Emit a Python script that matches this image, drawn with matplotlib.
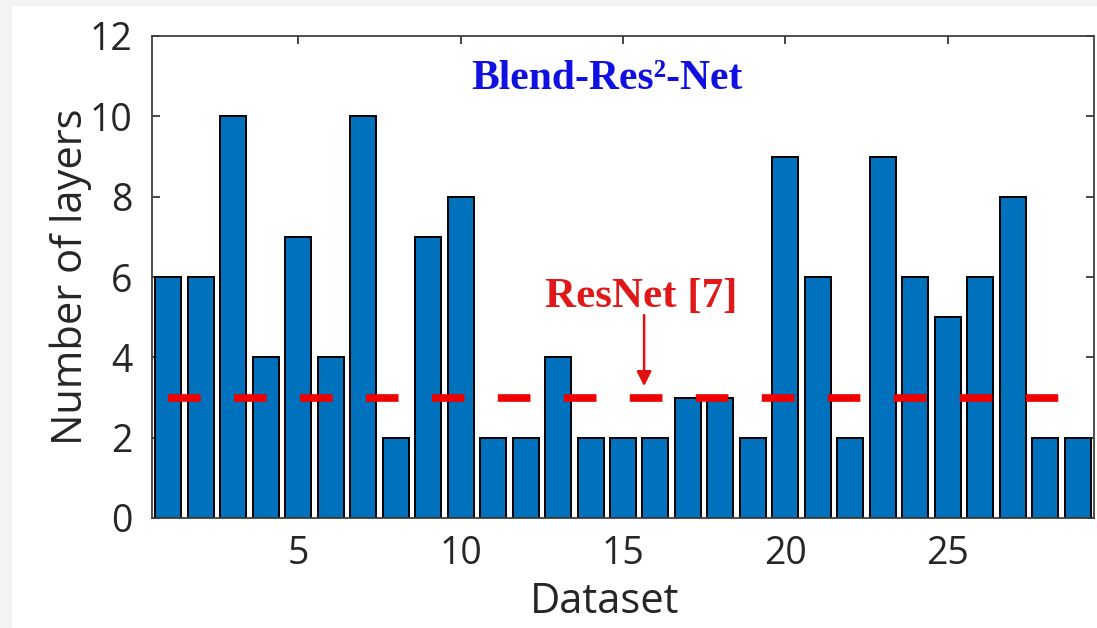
import matplotlib.pyplot as plt
import numpy as np
from matplotlib.patches import Rectangle

# Data
datasets = np.arange(1, 30)
layers = [6, 6, 10, 4, 7, 4, 10, 2, 7, 8, 2, 2, 4, 2, 2, 2, 3, 3, 2, 9, 6, 2, 9, 6, 5, 6, 8, 2, 2]
resnet_layers = 3
x_ticks = [5, 10, 15, 20, 25]
y_ticks = [0, 2, 4, 6, 8, 10, 12]

plt.rcParams['font.family'] = 'Open Sans'
text_color = '#262626'

fig = plt.figure(figsize=(10.97, 6.28), dpi=100, facecolor='#f3f3f3')
# white canvas area like the screenshot
fig.patches.append(Rectangle((12 / 1097, 0), 1, 1 - 6 / 628, transform=fig.transFigure,
                             facecolor='white', edgecolor='none', zorder=-10))
ax = fig.add_axes([152 / 1097, 1 - 518 / 628, (1094 - 152) / 1097, (518 - 36) / 628])

ax.bar(datasets, layers, width=0.8, color='#0072BD', edgecolor='black', linewidth=1.4, zorder=2)

# ResNet baseline
ax.hlines(resnet_layers, datasets[0], datasets[-1], colors='#ee0000', linewidth=5.5,
          linestyles=(0, (23.5 / 5.5, 24 / 5.5)), capstyle='butt', zorder=3)

ax.annotate('', xy=(15.65, 3.28), xytext=(15.65, 5.05),
            arrowprops=dict(arrowstyle='-|>', color='#e01010', lw=1.8, mutation_scale=22,
                            shrinkA=0, shrinkB=0), zorder=4)
ax.text(15.56, 5.5, 'ResNet [7]', color='#e01818', fontsize=31, fontweight='bold',
        family='Liberation Serif', ha='center', va='center', zorder=4)
ax.text(14.5, 10.92, 'Blend-Res²-Net', color='#1010e0', fontsize=30, fontweight='bold',
        family='Liberation Serif', ha='center', va='center', zorder=4)

ax.set_xlim(0.5, 29.5)
ax.set_ylim(0, 12)
ax.set_xticks(x_ticks)
ax.set_yticks(y_ticks)
ax.tick_params(direction='in', top=True, right=True, length=6, width=1.2,
               color=text_color, labelcolor=text_color, labelsize=27)
ax.tick_params(axis='x', pad=12)
ax.tick_params(axis='y', pad=14)

for s in ax.spines.values():
    s.set_color('#404040')
    s.set_linewidth(1.3)

ax.set_xlabel('Dataset', fontsize=30, color=text_color)
ax.set_ylabel('Number of layers', fontsize=30, color=text_color)
ax.xaxis.set_label_coords(0.48, -0.13)
ax.yaxis.set_label_coords(-0.064, 0.5)

fig.savefig('out.png', dpi=100, facecolor=fig.get_facecolor())
